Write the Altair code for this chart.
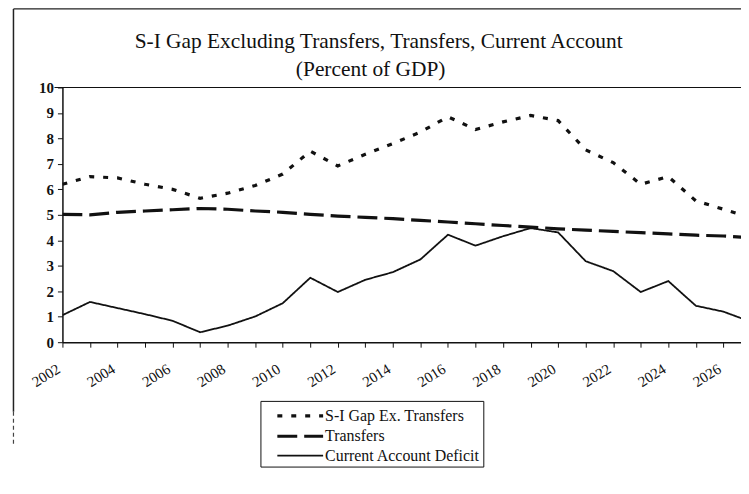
import altair as alt
import pandas as pd

# ---- data ----
years = list(range(2002, 2028))
si_gap = [6.2, 6.5, 6.45, 6.2, 6.0, 5.65, 5.85, 6.15, 6.6, 7.5, 6.92, 7.38,
          7.8, 8.25, 8.85, 8.35, 8.65, 8.9, 8.7, 7.55, 7.05, 6.2, 6.5, 5.55, 5.22, 4.88]
transfers = [5.02, 5.0, 5.1, 5.15, 5.2, 5.25, 5.22, 5.15, 5.1, 5.02, 4.95, 4.9,
             4.85, 4.78, 4.72, 4.65, 4.58, 4.52, 4.45, 4.4, 4.35, 4.3, 4.25, 4.2, 4.17, 4.1]
ca_deficit = [1.06, 1.58, 1.34, 1.1, 0.84, 0.39, 0.65, 1.01, 1.53, 2.53, 1.97, 2.45,
              2.75, 3.25, 4.22, 3.79, 4.16, 4.48, 4.31, 3.18, 2.79, 1.97, 2.4, 1.43, 1.2, 0.8]
series_names = ["S-I Gap Ex. Transfers", "Transfers", "Current Account Deficit"]
x_ticks = list(range(2002, 2027))
y_ticks = list(range(0, 11))
title_line1 = "S-I Gap Excluding Transfers, Transfers, Current Account"
title_line2 = "(Percent of GDP)"

rows = []
for name, vals in zip(series_names, [si_gap, transfers, ca_deficit]):
    for yr, v in zip(years, vals):
        rows.append({"year": yr, "value": v, "series": name})
df = pd.DataFrame(rows)

W, H = 682, 256
X_MAX = 2026.64
INK = "#111111"
SERIF = "Liberation Serif, Times New Roman, serif"

dummy = pd.DataFrame({"a": [0]})

x_enc = alt.X(
    "year:Q",
    scale=alt.Scale(domain=[2002, X_MAX], nice=False, zero=False),
    axis=alt.Axis(
        values=x_ticks, format="d",
        labelExpr="datum.value % 2 == 0 ? datum.label : ''",
        labelAngle=-32, labelPadding=14, labelOffset=-8,
        labelFont=SERIF, labelFontSize=15, labelColor=INK,
        tickSize=5, tickColor=INK, domainColor=INK, domainWidth=1.5,
        grid=False, labelOverlap=False,
    ),
    title=None,
)
y_enc = alt.Y(
    "value:Q",
    scale=alt.Scale(domain=[0, 10], nice=False),
    axis=alt.Axis(
        values=y_ticks, labelFont=SERIF, labelFontSize=15, labelFontWeight="bold",
        labelColor=INK, labelPadding=4, tickSize=5, tickColor=INK,
        domainColor=INK, domainWidth=1.5, grid=False,
    ),
    title=None,
)

legend = alt.Legend(
    title=None, orient="none", legendX=199, legendY=315,
    strokeColor=INK, fillColor="white", padding=3,
    symbolType="M-2.3,0H2.3", symbolSize=400, symbolOffset=25,
    rowPadding=0.5, labelFont=SERIF, labelFontSize=16, labelColor=INK,
    labelOffset=13, labelLimit=300, symbolStrokeColor=INK,
)

lines = alt.Chart(df).mark_line(color=INK, clip=True).encode(
    x=x_enc,
    y=y_enc,
    strokeDash=alt.StrokeDash(
        "series:N", sort=series_names,
        scale=alt.Scale(domain=series_names, range=[[5, 9], [20, 7], [1, 0]]),
        legend=legend,
    ),
    strokeWidth=alt.StrokeWidth(
        "series:N", sort=series_names,
        scale=alt.Scale(type="ordinal", domain=series_names, range=[3.2, 3.2, 1.8]),
        legend=legend,
    ),
)

top_rule = alt.Chart(dummy).mark_rule(color=INK, strokeWidth=1.2).encode(
    x=alt.value(-8), x2=alt.value(W + 20), y=alt.value(0)
)
frame_left = alt.Chart(dummy).mark_rule(color="#222222", strokeWidth=1.5).encode(
    x=alt.value(-49.2), y=alt.value(-79), y2=alt.value(326)
)
frame_left_dash = alt.Chart(dummy).mark_rule(
    color="#444444", strokeWidth=1.2, strokeDash=[4, 3]
).encode(x=alt.value(-49.2), y=alt.value(326), y2=alt.value(358))
frame_top = alt.Chart(dummy).mark_rule(color="#222222", strokeWidth=1.2).encode(
    x=alt.value(-49.2), x2=alt.value(W + 20), y=alt.value(-79)
)

t1 = alt.Chart(pd.DataFrame({"t": [title_line1]})).mark_text(
    font=SERIF, fontSize=21.5, align="center", baseline="alphabetic", color=INK
).encode(x=alt.value(317.8), y=alt.value(-39.7), text="t:N")
t2 = alt.Chart(pd.DataFrame({"t": [title_line2]})).mark_text(
    font=SERIF, fontSize=21.5, align="center", baseline="alphabetic", color=INK
).encode(x=alt.value(309.8), y=alt.value(-11.7), text="t:N")

chart = alt.layer(
    frame_left, frame_left_dash, frame_top, top_rule, lines, t1, t2
).properties(
    width=W, height=H,
    autosize=alt.AutoSizeParams(type="none"),
    padding={"left": 54.7, "top": 78.7, "right": 0, "bottom": 136},
    background="white",
).configure_view(stroke=None)

chart.save("out.html", embed_options={"renderer": "svg", "actions": False})
